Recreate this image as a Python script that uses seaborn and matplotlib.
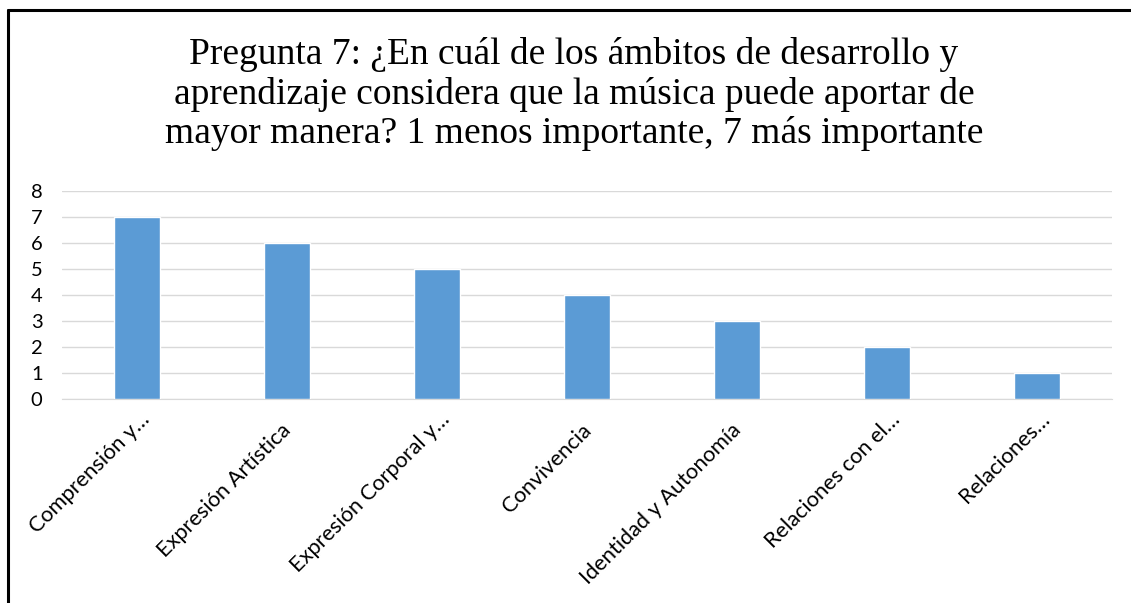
import matplotlib.pyplot as plt
import matplotlib.transforms as mtransforms
import seaborn as sns
import pandas as pd
from matplotlib.lines import Line2D

# Chart data
categorias = ["Comprensión y…", "Expresión Artística", "Expresión Corporal y…",
              "Convivencia", "Identidad y Autonomía", "Relaciones con el…",
              "Relaciones…"]
valores = [7, 6, 5, 4, 3, 2, 1]
titulo = ("Pregunta 7: ¿En cuál de los ámbitos de desarrollo y\n"
          "aprendizaje considera que la música puede aportar de\n"
          "mayor manera? 1 menos importante, 7 más importante")

df = pd.DataFrame({"Ámbito": categorias, "Valor": valores})

sns.set_style("white")
plt.rcParams['font.family'] = ['Lato', 'DejaVu Sans']

fig = plt.figure(figsize=(11.31, 6.03), dpi=100)
ax = fig.add_axes([62 / 1131, 1 - 399 / 603, 1050 / 1131, 208 / 603])

sns.barplot(data=df, x="Ámbito", y="Valor", color="#5B9BD5", width=0.31,
            saturation=1, ax=ax, zorder=3)

ax.set_ylim(0, 8)
ax.set_yticks(range(0, 9))
ax.set_xlim(-0.5, len(categorias) - 0.5)
ax.grid(axis='y', color="#D9D9D9", linewidth=1, zorder=0)
ax.set_axisbelow(True)
for s in ["top", "right", "left"]:
    ax.spines[s].set_visible(False)
ax.spines["bottom"].set_color("#D9D9D9")
ax.set_xlabel("")
ax.set_ylabel("")
ax.tick_params(axis='y', length=0, pad=14, labelsize=14.5, labelcolor='black')
ax.tick_params(axis='x', length=0, pad=5, labelsize=15.7, labelcolor='black')

# Excel places truncated labels a little further right than full ones
for lbl in ax.get_xticklabels():
    if lbl.get_text().endswith("…"):
        dx, dy = 3, -3
    else:
        dx, dy = -6, -14
    shift = mtransforms.ScaledTranslation(dx / 100, dy / 100, fig.dpi_scale_trans)
    lbl.set_rotation(45)
    lbl.set_ha('right')
    lbl.set_va('top')
    lbl.set_rotation_mode('anchor')
    lbl.set_transform(lbl.get_transform() + shift)

fig.text(574 / 1131, 1 - 37 / 603, titulo, ha='center', va='top',
         fontsize=27, family='Liberation Serif', linespacing=1.17,
         color='black')

# chart-area border
fig.add_artist(Line2D([8 / 1131, 8 / 1131], [0, 1 - 10 / 603], color='black',
                      linewidth=2.2, transform=fig.transFigure))
fig.add_artist(Line2D([8 / 1131, 1], [1 - 10 / 603, 1 - 10 / 603], color='black',
                      linewidth=2.2, transform=fig.transFigure))

fig.savefig("out.png", dpi=100)
